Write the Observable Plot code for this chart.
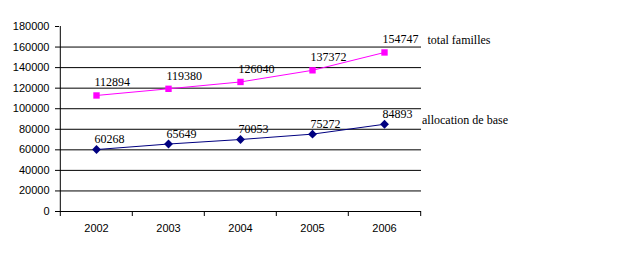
<!DOCTYPE html>
<html><head><meta charset="utf-8">
<script src="https://cdn.jsdelivr.net/npm/d3@7"></script>
<script src="https://cdn.jsdelivr.net/npm/@observablehq/plot@0.6"></script>
<style>body{margin:0;background:#fff;} svg{display:block;}</style>
</head><body><div id="chart"></div>
<script>
const years = ["2002", "2003", "2004", "2005", "2006"];
const totalFamilles = [112894, 119380, 126040, 137372, 154747];
const allocationBase = [60268, 65649, 70053, 75272, 84893];
const seriesNames = ["total familles", "allocation de base"];
const yTicks = [0, 20000, 40000, 60000, 80000, 100000, 120000, 140000, 160000, 180000];
const gridTicks = [20000, 40000, 60000, 80000, 100000, 120000, 140000, 160000];

const W = 637, H = 257, mL = 59, mR = 216, mT = 26, mB = 46;
const bw = (W - mL - mR) / years.length;

const tot = years.map((y, i) => ({year: y, value: totalFamilles[i]}));
const alloc = years.map((y, i) => ({year: y, value: allocationBase[i]}));

const serif = "Liberation Serif, Times New Roman, serif";

const chart = Plot.plot({
  width: W, height: H,
  marginLeft: mL, marginRight: mR, marginTop: mT, marginBottom: mB,
  style: {fontFamily: "Liberation Sans, Arial, sans-serif", fontSize: "11px", color: "#000", background: "#fff"},
  x: {type: "band", domain: years, padding: 0, label: null},
  y: {domain: [0, 180000], label: null},
  marks: [
    Plot.ruleY(gridTicks, {stroke: "#000", strokeWidth: 1}),
    Plot.ruleY([0], {stroke: "#000", strokeWidth: 1}),
    Plot.ruleX([0], {x: () => years[0], dx: -bw / 2, y1: 0, y2: 180000, stroke: "#000"}),
    Plot.axisY({ticks: yTicks, tickSize: 4, tickPadding: 6, tickFormat: d3.format("d"), fontSize: 11}),
    Plot.axisX({ticks: years, tickSize: 5, text: null, dx: -bw / 2}),
    Plot.axisX({ticks: [years[years.length - 1]], tickSize: 5, text: null, dx: bw / 2}),
    Plot.axisX({ticks: years, tickSize: 0, tickPadding: 13, fontSize: 11}),
    Plot.line(tot, {x: "year", y: "value", stroke: "#ff00ff", strokeWidth: 1}),
    Plot.line(alloc, {x: "year", y: "value", stroke: "#000080", strokeWidth: 1}),
    Plot.dot(tot, {x: "year", y: "value", symbol: "square", r: 3.6, fill: "#ff00ff", stroke: "none"}),
    Plot.dot(alloc, {x: "year", y: "value", symbol: "diamond2", r: 4, fill: "#000080", stroke: "none"}),
    Plot.text(tot, {x: "year", y: "value", text: d => String(d.value), textAnchor: "start", dx: -2, dy: -13, fontFamily: serif, fontSize: 12, fill: "#000"}),
    Plot.text(alloc, {x: "year", y: "value", text: d => String(d.value), textAnchor: "start", dx: -2, dy: -10, fontFamily: serif, fontSize: 12, fill: "#000"}),
    Plot.text([tot[tot.length - 1]], {x: "year", y: "value", text: () => seriesNames[0], textAnchor: "start", dx: 43, dy: -12.5, fontFamily: serif, fontSize: 12, fill: "#000"}),
    Plot.text([alloc[alloc.length - 1]], {x: "year", y: "value", text: () => seriesNames[1], textAnchor: "start", dx: 37.5, dy: -4.5, fontFamily: serif, fontSize: 12, fill: "#000"})
  ]
});
document.getElementById("chart").appendChild(chart);
</script>
</body></html>
